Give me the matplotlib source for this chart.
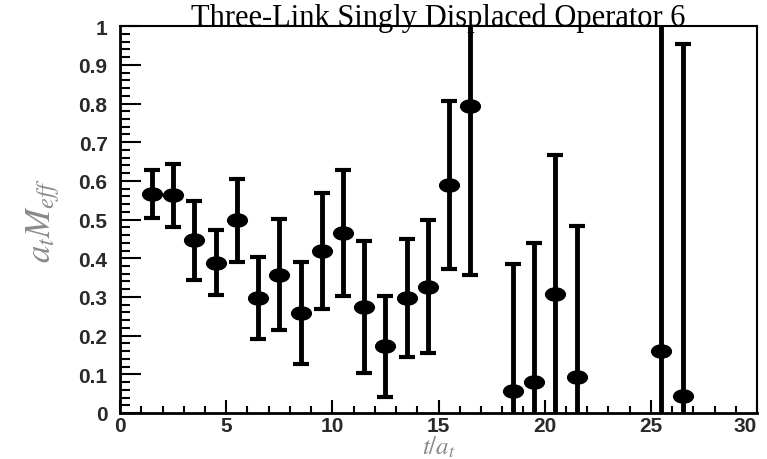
import matplotlib
matplotlib.use('Agg')

import matplotlib.pyplot as plt
import numpy as np
from matplotlib.markers import MarkerStyle
from matplotlib.transforms import Affine2D
from matplotlib.ticker import MultipleLocator, FormatStrFormatter

# time slices and effective mass, symmetric errors
t = [1.5, 2.5, 3.5, 4.5, 5.5, 6.5, 7.5, 8.5, 9.5, 10.5, 11.5,
     12.5, 13.5, 14.5, 15.5, 16.5, 18.5, 19.5, 20.5, 21.5, 25.5, 26.5]
meff = [0.565, 0.563, 0.446, 0.389, 0.498, 0.297, 0.358, 0.258, 0.419, 0.466, 0.274,
        0.172, 0.298, 0.326, 0.589, 0.794, 0.058, 0.079, 0.308, 0.092, 0.161, 0.043]
err = [0.062, 0.081, 0.101, 0.083, 0.108, 0.105, 0.143, 0.132, 0.150, 0.163, 0.171,
       0.131, 0.152, 0.172, 0.217, 0.438, 0.328, 0.361, 0.359, 0.392, 0.900, 0.911]

title = "Three-Link Singly Displaced Operator 6"

plt.rcParams['mathtext.fontset'] = 'stix'

fig = plt.figure(figsize=(7.67, 4.60), dpi=100)
ax = fig.add_axes([0.1565, 0.1, 0.8305, 0.841])

# the reference is stretched sideways, so use a wide marker
mk = MarkerStyle('o', transform=Affine2D().scale(1.5, 1.0))
ax.errorbar(t, meff, yerr=err, fmt='none', ecolor='black',
            elinewidth=3.5, capsize=5.5, capthick=3, zorder=2)
ax.plot(t, meff, linestyle='none', marker=mk, markersize=9.5,
        color='black', zorder=3)

ax.set_xlim(0, 30)
ax.set_ylim(0, 1)

ax.xaxis.set_major_locator(MultipleLocator(5))
ax.xaxis.set_minor_locator(MultipleLocator(1))
ax.yaxis.set_major_locator(MultipleLocator(0.1))
ax.yaxis.set_minor_locator(MultipleLocator(0.02))
ax.xaxis.set_major_formatter(FormatStrFormatter('%g'))
ax.yaxis.set_major_formatter(FormatStrFormatter('%g'))

ax.tick_params(axis='both', which='both', direction='in', top=False, right=False,
               width=1.5, colors='black', labelcolor='#2a2a2a')
ax.tick_params(axis='y', which='major', length=15, pad=9)
ax.tick_params(axis='y', which='minor', length=7.5)
ax.tick_params(axis='x', which='major', length=9.5, pad=2)
ax.tick_params(axis='x', which='minor', length=5)

for side in ['left', 'bottom']:
    ax.spines[side].set_linewidth(2)
for side in ['top', 'right']:
    ax.spines[side].set_linewidth(1.5)

ax.text(0.5, 1.004, title, transform=ax.transAxes, ha='center', va='baseline',
        fontfamily='Liberation Serif', fontsize=22, color='black')

ax.set_ylabel(r'$a_t M_{eff}$', fontsize=25, color='#8a8a8a', labelpad=12)
ax.set_xlabel(r'$t/a_t$', fontsize=18, color='#8a8a8a', labelpad=-1)

fig.canvas.draw()
for lab in ax.get_xticklabels() + ax.get_yticklabels():
    lab.set_fontfamily('Liberation Sans')
    lab.set_fontweight('bold')
    lab.set_fontsize(15)
# last x label sits at the right edge of the figure
xl = [lab for lab in ax.get_xticklabels() if lab.get_text() == '30']
for lab in xl:
    lab.set_horizontalalignment('right')
    lab.set_x(30.35)

fig.savefig('out.png', dpi=100)
